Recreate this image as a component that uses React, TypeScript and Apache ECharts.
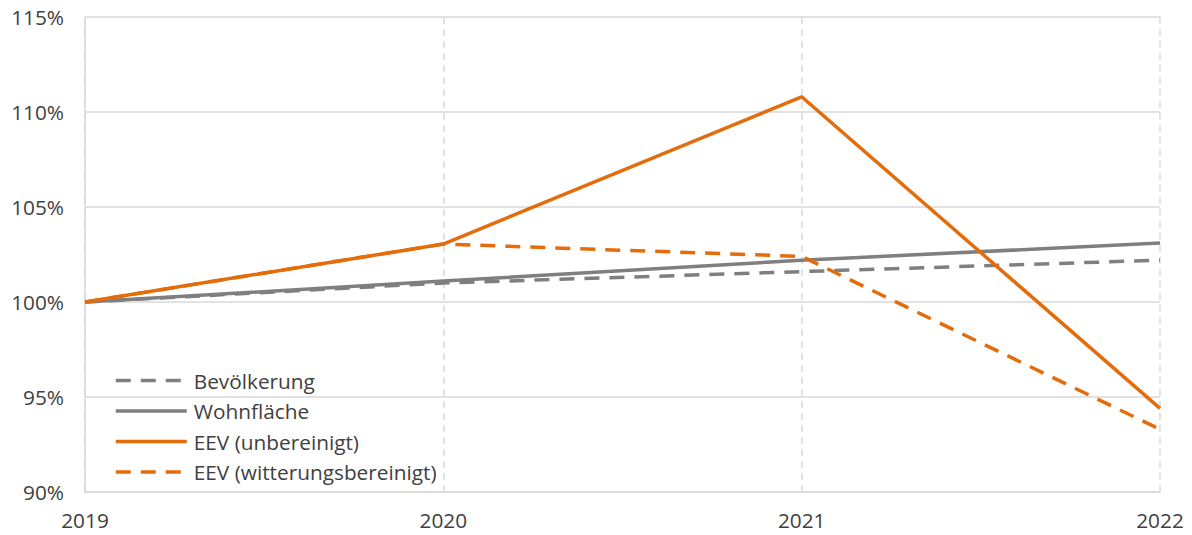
import React, { useEffect, useRef } from "react";
import * as echarts from "echarts";

// Index values (2019 = 100 %)
const years = ["2019", "2020", "2021", "2022"];
const bevoelkerung = [100, 101.0, 101.6, 102.2];
const wohnflaeche = [100, 101.1, 102.2, 103.1];
const eevUnbereinigt = [100, 103.05, 110.8, 94.4];
const eevWitterung = [100, 103.05, 102.4, 93.3];

const GRAY = "#7f7f7f";
const ORANGE = "#e46c0a";
const GRID = "#d9d9d9";
const TEXT = "#404040";
const FONT = "'Open Sans', 'Noto Sans', sans-serif";
const FS = 20.8;

export default function App() {
  const ref = useRef<HTMLDivElement>(null);

  useEffect(() => {
    if (!ref.current) return;
    const chart = echarts.init(ref.current, undefined, { renderer: "svg" });
    const dash = [15, 10];
    chart.setOption({
      animation: false,
      backgroundColor: "#ffffff",
      textStyle: { fontFamily: FONT },
      grid: { left: 85, right: 32, top: 17, bottom: 43, containLabel: false },
      legend: {
        orient: "vertical",
        left: 114,
        top: 370,
        padding: 0,
        itemWidth: 71,
        itemHeight: 20,
        itemGap: 9.5,
        itemStyle: { opacity: 0 },
        lineStyle: { width: 3.5 },
        textStyle: { fontFamily: FONT, fontSize: FS, color: TEXT, padding: [0, 0, 0, 2] },
        data: ["Bevölkerung", "Wohnfläche", "EEV (unbereinigt)", "EEV (witterungsbereinigt)"],
      },
      xAxis: {
        type: "category",
        data: years,
        boundaryGap: false,
        axisLine: { show: true, lineStyle: { color: GRID, width: 1.5 } },
        axisTick: { show: false },
        axisLabel: { color: TEXT, fontSize: FS, fontFamily: FONT, margin: 17 },
        splitLine: { show: true, lineStyle: { color: GRID, width: 1.5, type: [7, 5] } },
      },
      yAxis: {
        type: "value",
        min: 90,
        max: 115,
        interval: 5,
        axisLine: { show: true, lineStyle: { color: GRID, width: 1.5 } },
        axisTick: { show: false },
        axisLabel: {
          color: TEXT,
          fontSize: FS,
          fontFamily: FONT,
          margin: 21,
          formatter: "{value}%",
        },
        splitLine: { show: true, lineStyle: { color: GRID, width: 1.5 } },
      },
      series: [
        {
          name: "Bevölkerung",
          type: "line",
          data: bevoelkerung,
          symbol: "none",
          z: 2,
          lineStyle: { color: GRAY, width: 3.5, type: dash },
          itemStyle: { color: GRAY },
        },
        {
          name: "Wohnfläche",
          type: "line",
          data: wohnflaeche,
          symbol: "none",
          z: 3,
          lineStyle: { color: GRAY, width: 3.5 },
          itemStyle: { color: GRAY },
        },
        {
          name: "EEV (unbereinigt)",
          type: "line",
          data: eevUnbereinigt,
          symbol: "none",
          z: 5,
          lineStyle: { color: ORANGE, width: 3.5 },
          itemStyle: { color: ORANGE },
        },
        {
          name: "EEV (witterungsbereinigt)",
          type: "line",
          data: eevWitterung,
          symbol: "none",
          z: 4,
          lineStyle: { color: ORANGE, width: 3.5, type: dash },
          itemStyle: { color: ORANGE },
        },
      ],
    });
    return () => chart.dispose();
  }, []);

  return (
    <div
      ref={ref}
      style={{ position: "fixed", left: 0, top: 0, width: 1192, height: 535, background: "#fff" }}
    />
  );
}
